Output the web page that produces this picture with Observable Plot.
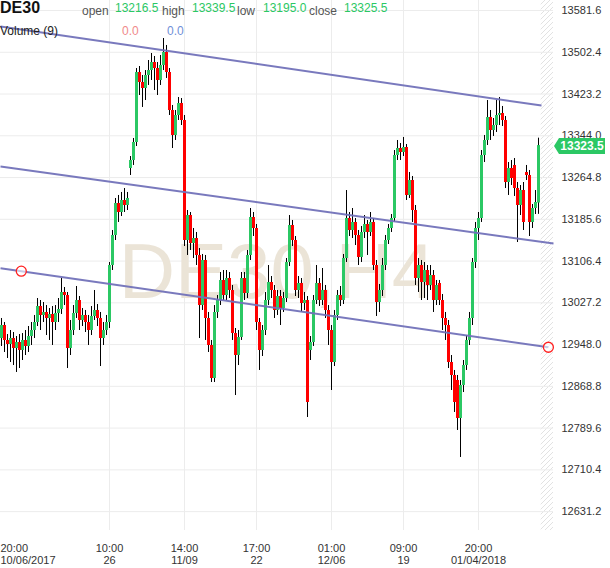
<!DOCTYPE html>
<html><head><meta charset="utf-8">
<script src="https://cdn.jsdelivr.net/npm/d3@7"></script>
<script src="https://cdn.jsdelivr.net/npm/@observablehq/plot@0.6"></script>
<style>
body{margin:0;background:#fff;font-family:"Liberation Sans",Arial,sans-serif;}
#wrap{position:relative;width:610px;height:568px;overflow:hidden;}
#wrap svg{position:absolute;left:0;top:0;}
.hd{position:absolute;white-space:nowrap;font-size:12px;line-height:12px;}
</style></head><body><div id="wrap"></div>
<script>
// ---- data ----
const symbol = "DE30";
const watermark = "DE30,H4";
const headerLabels = ["open","high","low","close"];
const headerValues = ["13216.5","13339.5","13195.0","13325.5"];
const volumeLabel = "Volume (9)";
const volumeValues = ["0.0","0.0"];

const opens = [
12959.5,12984.2,12955.8,12948.2,12959.5,12940.6,12952.0,12936.8,12955.8,12944.4,
12963.3,12974.7,12989.9,13020.2,13003.2,13008.9,12997.5,13005.1,12989.9,13007.0,
13014.6,13046.8,13041.1,12940.6,12974.7,13007.0,13031.6,12993.7,13003.2,12989.9,
12974.7,13001.3,13012.7,12997.5,12959.5,12974.7,12989.9,13098.0,13154.9,13215.6,
13198.5,13221.3,13211.8,13282.0,13297.1,13331.3,13464.0,13445.1,13433.7,13458.4,
13467.8,13483.0,13471.6,13448.9,13477.3,13502.0,13464.0,13392.0,13344.6,13382.5,
13405.3,13373.0,13145.4,13192.8,13139.7,13149.2,13117.0,13022.1,13107.5,12997.5,
12946.3,12883.7,13008.9,13031.6,13069.6,13041.1,13073.3,13050.6,12969.0,12927.3,
12961.4,13073.3,13044.9,13117.0,13189.0,13168.2,12989.9,12936.8,12974.7,13031.6,
13065.8,13050.6,13012.7,13039.2,13016.4,13035.4,13103.7,13173.9,13145.4,13050.6,
13063.9,13025.9,13031.6,12936.8,12952.0,13031.6,13063.9,13031.6,13050.6,13012.7,
12974.7,12914.0,13003.2,13041.1,13031.6,13111.3,13187.1,13164.4,13179.6,13154.9,
13113.2,13160.6,13175.8,13160.6,13179.6,13098.0,13027.8,13050.6,13098.0,13145.4,
13168.2,13187.1,13306.6,13319.9,13312.3,13321.8,13230.8,13259.2,13202.3,13073.3,
13098.0,13065.8,13088.5,13060.1,13079.0,13031.6,13063.9,13031.6,12997.5,12984.2,
12914.0,12889.4,12879.9,12807.8,12870.4,12908.3,12955.8,12997.5,13103.7,13168.2,
13187.1,13306.6,13335.1,13378.7,13354.0,13363.5,13382.5,13386.3,13373.0,13255.4,
13282.0,13287.7,13244.0,13211.8,13240.2,13274.4,13268.7,13179.6,13206.1,13216.5];
const highs = [
12997.5,12989.9,12967.1,12974.7,12970.9,12963.3,12967.1,12969.0,12974.7,12982.3,
12989.9,13003.2,13035.4,13031.6,13027.8,13022.1,13016.4,13020.2,13022.1,13035.4,
13073.3,13056.3,13046.8,12993.7,13022.1,13058.2,13039.2,13016.4,13012.7,13003.2,
13020.2,13050.6,13024.0,13008.9,12989.9,13003.2,13103.7,13164.4,13225.1,13230.8,
13236.5,13244.0,13236.5,13304.7,13338.9,13471.6,13475.4,13458.4,13467.8,13486.8,
13500.1,13494.4,13483.0,13496.3,13528.5,13515.3,13471.6,13401.5,13392.0,13416.6,
13414.7,13382.5,13202.3,13198.5,13168.2,13160.6,13130.2,13118.9,13117.0,13008.9,
12955.8,13022.1,13041.1,13084.7,13088.5,13088.5,13084.7,13060.1,12978.5,12974.7,
13084.7,13084.7,13126.5,13206.1,13198.5,13175.8,12997.5,12984.2,13046.8,13098.0,
13077.1,13060.1,13050.6,13050.6,13046.8,13111.3,13192.8,13183.4,13153.0,13077.1,
13073.3,13046.8,13039.2,12963.3,13041.1,13098.0,13073.3,13092.3,13060.1,13022.1,
12984.2,13012.7,13050.6,13058.2,13118.9,13240.2,13198.5,13206.1,13187.1,13164.4,
13172.0,13192.8,13183.4,13198.5,13187.1,13107.5,13062.0,13111.3,13154.9,13175.8,
13194.7,13316.1,13335.1,13329.4,13340.8,13327.5,13274.4,13266.8,13211.8,13111.3,
13107.5,13103.7,13098.0,13098.0,13088.5,13069.6,13069.6,13043.0,13008.9,12993.7,
12927.3,12898.9,12889.4,12879.9,12917.8,12965.2,13008.9,13111.3,13179.6,13198.5,
13316.1,13344.6,13410.9,13392.0,13376.8,13410.9,13416.6,13399.6,13380.6,13293.3,
13297.1,13300.9,13255.4,13249.7,13255.4,13287.7,13278.2,13213.7,13240.2,13339.5];
const lows = [
12944.4,12933.0,12921.6,12914.0,12908.3,12895.1,12902.6,12917.8,12927.3,12933.0,
12946.3,12959.5,12982.3,12974.7,12989.9,12965.2,12955.8,12946.3,12974.7,12989.9,
13005.1,13022.1,12902.6,12927.3,12965.2,12997.5,12974.7,12982.3,12970.9,12946.3,
12965.2,12993.7,12982.3,12906.4,12946.3,12965.2,12978.5,13088.5,13145.4,13179.6,
13190.9,13198.5,13202.3,13268.7,13287.7,13323.7,13420.4,13397.7,13410.9,13439.4,
13448.9,13429.9,13420.4,13439.4,13467.8,13452.7,13382.5,13319.9,13335.1,13373.0,
13363.5,13134.0,13117.0,13126.5,13111.3,13098.0,12959.5,13012.7,12955.8,12933.0,
12876.1,12876.1,12997.5,13022.1,13031.6,13031.6,13035.4,12955.8,12851.4,12908.3,
12955.8,13031.6,13035.4,13107.5,13153.0,12974.7,12898.9,12925.4,12965.2,13022.1,
13035.4,12997.5,13003.2,12984.2,13008.9,13027.8,13096.1,13134.0,13039.2,13035.4,
13008.9,13012.7,12809.7,12917.8,12944.4,13024.0,13020.2,13022.1,12997.5,12946.3,
12860.9,12906.4,12993.7,13020.2,13024.0,13103.7,13153.0,13149.2,13135.9,13098.0,
13103.7,13149.2,13117.0,13153.0,13088.5,13001.3,13008.9,13039.2,13088.5,13137.8,
13160.6,13179.6,13297.1,13297.1,13304.7,13221.3,13225.1,13179.6,13060.1,13046.8,
13031.6,13035.4,13031.6,13050.6,13008.9,13022.1,13022.1,12974.7,12955.8,12902.6,
12860.9,12819.2,12785.1,12733.9,12857.1,12898.9,12946.3,12984.2,13092.3,13145.4,
13179.6,13293.3,13325.6,13335.1,13342.7,13350.3,13363.5,13361.6,13244.0,13230.8,
13249.7,13228.9,13141.6,13192.8,13164.4,13259.2,13153.0,13168.2,13194.7,13195.0];
const closes = [
12984.2,12955.8,12948.2,12959.5,12940.6,12952.0,12936.8,12955.8,12944.4,12963.3,
12974.7,12989.9,13020.2,13003.2,13008.9,12997.5,13005.1,12989.9,13007.0,13014.6,
13046.8,13041.1,12940.6,12974.7,13007.0,13031.6,12993.7,13003.2,12989.9,12974.7,
13001.3,13012.7,12997.5,12959.5,12974.7,12989.9,13098.0,13154.9,13215.6,13198.5,
13221.3,13211.8,13225.1,13297.1,13331.3,13464.0,13445.1,13433.7,13458.4,13467.8,
13483.0,13471.6,13448.9,13477.3,13502.0,13464.0,13392.0,13344.6,13382.5,13405.3,
13373.0,13145.4,13192.8,13139.7,13149.2,13117.0,13022.1,13107.5,12997.5,12946.3,
12883.7,13008.9,13031.6,13069.6,13041.1,13073.3,13050.6,12969.0,12927.3,12961.4,
13073.3,13044.9,13117.0,13189.0,13168.2,12989.9,12936.8,12974.7,13031.6,13065.8,
13050.6,13012.7,13039.2,13016.4,13035.4,13103.7,13173.9,13145.4,13050.6,13063.9,
13025.9,13031.6,12838.2,12952.0,13031.6,13063.9,13031.6,13050.6,13012.7,12974.7,
12914.0,13003.2,13041.1,13031.6,13111.3,13187.1,13164.4,13179.6,13154.9,13113.2,
13160.6,13175.8,13160.6,13179.6,13098.0,13027.8,13050.6,13098.0,13145.4,13168.2,
13187.1,13306.6,13319.9,13312.3,13321.8,13230.8,13259.2,13202.3,13073.3,13098.0,
13065.8,13088.5,13060.1,13079.0,13031.6,13060.1,13031.6,12997.5,12984.2,12914.0,
12889.4,12838.2,12807.8,12870.4,12908.3,12955.8,12997.5,13103.7,13168.2,13187.1,
13306.6,13335.1,13378.7,13354.0,13363.5,13382.5,13386.3,13373.0,13255.4,13282.0,
13263.0,13244.0,13211.8,13240.2,13179.6,13268.7,13179.6,13206.1,13217.5,13325.5];

const yTicks = [13581.6,13502.4,13423.2,13344.0,13264.8,13185.6,13106.4,13027.2,12948.0,12868.8,12789.6,12710.4,12631.2];
const xTickIdx = [36,61,85,110,134,159];
const xTickTop = ["10:00","14:00","17:00","01:00","09:00","20:00"];
const xTickBottom = ["26","11/09","22","12/06","19","01/04/2018"];
const firstLabel = ["20:00","10/06/2017"];

// channel lines (candle index, price)
const chanX1 = [-0.33,-0.33,-0.33];
const chanY1 = [13551.3,13285.8,13093.0];
const chanX2 = [180.0,184.0,182.3];
const chanY2 = [13401.4,13139.7,12943.0];
const anchorX = [6.6,182.3];
const anchorY = [13087.2,12943.0];
const lastPrice = 13323.5;

// ---- build ----
const GREEN = "#2bc864", RED = "#ff0000";
const candles = opens.map((o,i)=>({i, open:o, high:highs[i], low:lows[i], close:closes[i]}));
const chans = chanX1.map((x,i)=>({x1:x, y1:chanY1[i], x2:chanX2[i], y2:chanY2[i]}));
const anchors = anchorX.map((x,i)=>({x, y:anchorY[i]}));
const labelMap = new Map(xTickIdx.map((d,i)=>[d, xTickTop[i]+"\n"+xTickBottom[i]]));
const xMin = -1/3, xMax = 184, yMin = 12595.4, yMax = 13600.6;

const plot = Plot.plot({
  width: 610, height: 568,
  marginLeft: 0, marginRight: 57, marginTop: 0, marginBottom: 38,
  style: {fontFamily: '"Liberation Sans", Arial, sans-serif', fontSize: "11px", background: "transparent"},
  x: {domain: [xMin, xMax], axis: null},
  y: {domain: [yMin, yMax], axis: null},
  marks: [
    Plot.rect([candles.length], {x1: d => d - 0.1, x2: xMax, y1: yMin, y2: yMax, fill: "url(#hatch)"}),
    Plot.gridY(yTicks, {stroke: "#ececec", strokeOpacity: 1}),
    Plot.gridX(xTickIdx, {stroke: "#ececec", strokeOpacity: 1}),
    Plot.text([watermark], {frameAnchor: "middle", dx: 0, dy: 8, fontSize: 78, fill: "#ebe4d7", fontFamily: '"Liberation Sans", Arial, sans-serif'}),
    Plot.ruleX(candles, {x: "i", y1: "low", y2: "high", stroke: "#000", strokeWidth: 1}),
    Plot.ruleX(candles, {x: "i", y1: "open", y2: "close", stroke: d => d.close >= d.open ? GREEN : RED, strokeWidth: 3}),
    Plot.link(chans, {x1: "x1", y1: "y1", x2: "x2", y2: "y2", stroke: "#7272b9", strokeWidth: 2, strokeOpacity: 0.95}),
    Plot.dot(anchors, {x: "x", y: "y", r: 5, stroke: "#ff2020", strokeWidth: 1.3, fill: "#fff", fillOpacity: 0.6}),
    Plot.axisY(yTicks, {anchor: "right", tickSize: 0, tickPadding: 8, tickFormat: d => d.toFixed(1), fill: "#333", fontSize: 11}),
    Plot.axisX(xTickIdx, {anchor: "bottom", tickSize: 0, tickPadding: 13, tickFormat: d => labelMap.get(d), fill: "#333", fontSize: 11, lineHeight: 1.1}),
    Plot.text([firstLabel.join("\n")], {frameAnchor: "bottom-left", dy: 13, lineAnchor: "top", textAnchor: "start", fill: "#333", fontSize: 11, lineHeight: 1.1})
  ]
});

const ns = "http://www.w3.org/2000/svg";
const defs = document.createElementNS(ns, "defs");
defs.innerHTML = '<pattern id="hatch" patternUnits="userSpaceOnUse" width="5" height="5"><path d="M-1,1 l2,-2 M0,5 l5,-5 M4,6 l2,-2" stroke="#e2e2e2" stroke-width="1"/></pattern>';
plot.insertBefore(defs, plot.firstChild);

// last price tag
const py = plot.scale("y").apply(lastPrice);
const px = 610 - 57;
const g = document.createElementNS(ns, "g");
g.innerHTML = `<path d="M${px+1},${py} L${px+6},${py-8} L${px+52},${py-8} L${px+52},${py+8} L${px+6},${py+8} Z" fill="${GREEN}"/>` +
  `<text x="${px+29}" y="${py+4.2}" text-anchor="middle" fill="#fff" font-weight="bold" font-size="12" font-family="Liberation Sans, Arial, sans-serif">${lastPrice.toFixed(1)}</text>`;
plot.appendChild(g);

const wrap = document.getElementById("wrap");
wrap.appendChild(plot);

// header
function addText(txt, left, top, style) {
  const s = document.createElement("div");
  s.className = "hd"; s.textContent = txt;
  s.style.left = left + "px"; s.style.top = top + "px";
  Object.assign(s.style, style || {});
  wrap.appendChild(s);
}
addText(symbol, 0, 0, {fontSize: "16px", lineHeight: "16px", fontWeight: "bold", color: "#111"});
const labelX = [82, 162, 237, 309], valueX = [115, 192, 263, 344];
headerLabels.forEach((t, i) => addText(t, labelX[i], 5, {color: "#555"}));
headerValues.forEach((t, i) => addText(t, valueX[i], 2, {color: "#2bc864"}));
addText(volumeLabel, 0, 25, {color: "#222"});
addText(volumeValues[0], 122, 25, {color: "#f08a8a"});
addText(volumeValues[1], 167, 25, {color: "#6f8fd8"});
</script></body></html>
